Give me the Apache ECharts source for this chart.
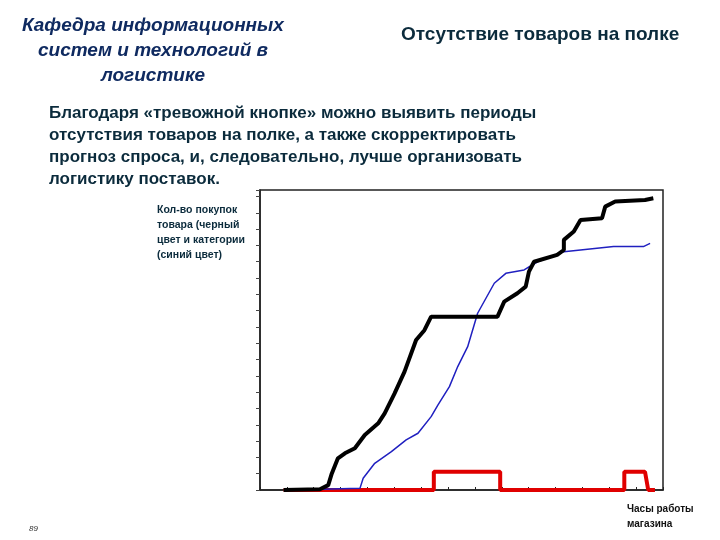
<!DOCTYPE html>
<html><head><meta charset="utf-8">
<script src="https://cdn.jsdelivr.net/npm/echarts@6/dist/echarts.min.js"></script>
<style>html,body{margin:0;padding:0;background:#fff}#c{width:720px;height:540px}</style>
</head><body><div id="c"></div>
<script>
const blackSeries = [[0.88,0],[2.23,0.05],[2.54,0.3],[2.67,1.0],[2.9,1.94],[3.16,2.25],[3.53,2.56],[3.9,3.37],[4.4,4.09],[4.64,4.7],[5.01,5.93],[5.38,7.26],[5.81,9.2],[6.12,9.8],[6.37,10.63],[8.84,10.63],[9.09,11.55],[9.58,12.07],[9.89,12.47],[10.01,13.39],[10.2,14.0],[11.06,14.42],[11.31,14.72],[11.31,15.34],[11.68,15.85],[11.93,16.56],[12.73,16.67],[12.85,17.38],[13.22,17.69],[14.33,17.79],[14.64,17.89]];
const blueSeries = [[2.3,0.05],[3.72,0.1],[3.84,0.72],[4.27,1.64],[4.89,2.35],[5.44,3.07],[5.88,3.48],[6.37,4.5],[6.62,5.21],[7.05,6.34],[7.36,7.57],[7.73,8.79],[8.1,10.84],[8.72,12.68],[9.15,13.29],[9.83,13.5],[10.33,14.0],[11.31,14.62],[13.16,14.93],[14.27,14.93],[14.52,15.13]];
const redSeries = [[0.88,0],[6.47,0],[6.47,1.12],[8.94,1.12],[8.94,0],[13.56,0],[13.56,1.12],[14.33,1.12],[14.45,0],[14.7,0]];
const ttl = 'Отсутствие товаров на полке';
const dept = 'Кафедра информационных\nсистем и технологий в\nлогистике';
const body = 'Благодаря «тревожной кнопке» можно выявить периоды\nотсутствия товаров на полке, а также скорректировать\nпрогноз спроса, и, следовательно, лучше организовать\nлогистику поставок.';
const yName = 'Кол-во покупок\nтовара (черный\nцвет и категории\n(синий цвет)';
const xName = 'Часы работы\nмагазина';
const F = 'Liberation Sans, Arial, sans-serif';
const chart = echarts.init(document.getElementById('c'));
chart.setOption({
  animation:false,
  title:[
    {text:dept,left:148,top:8,textAlign:'center',textStyle:{fontFamily:F,fontSize:19,fontStyle:'italic',fontWeight:'bold',color:'#0f2a60',lineHeight:25}},
    {text:ttl,left:396,top:20,textStyle:{fontFamily:F,fontSize:19,fontWeight:'bold',color:'#0b2b3c'}},
    {text:body,left:44,top:97,textStyle:{fontFamily:F,fontSize:17,fontWeight:'bold',color:'#0b2b3c',lineHeight:22}},
    {text:yName,left:152,top:198,textStyle:{fontFamily:F,fontSize:10.5,fontWeight:'bold',color:'#0b2b3c',lineHeight:15}},
    {text:xName,left:622,top:497,textStyle:{fontFamily:F,fontSize:10,fontWeight:'bold',color:'#111',lineHeight:15}},
    {text:'89',left:24,top:520,textStyle:{fontFamily:F,fontSize:8,fontStyle:'italic',fontWeight:'normal',color:'#333'}}
  ],
  grid:{left:260,top:190,width:403,height:300},
  xAxis:{type:'value',min:0,max:15,interval:1,axisLine:{lineStyle:{color:'#222',width:1.5}},axisTick:{inside:true,length:3,lineStyle:{color:'#222'}},axisLabel:{show:false},splitLine:{show:false}},
  yAxis:{type:'value',min:0,max:18.4,interval:1,axisLine:{show:true,lineStyle:{color:'#222',width:1.5}},axisTick:{show:true,length:4,lineStyle:{color:'#444'}},axisLabel:{show:false},splitLine:{show:false}},
  graphic:[{type:'rect',shape:{x:260,y:190,width:403,height:300},style:{fill:'none',stroke:'#222',lineWidth:1.5},silent:true}],
  series:[
    {type:'line',data:redSeries,symbol:'none',lineStyle:{color:'#e00000',width:4},z:3},
    {type:'line',data:blueSeries,symbol:'none',lineStyle:{color:'#2020c0',width:1.5},z:4},
    {type:'line',data:blackSeries,symbol:'none',lineStyle:{color:'#000',width:4},z:5}
  ]
});
</script></body></html>
